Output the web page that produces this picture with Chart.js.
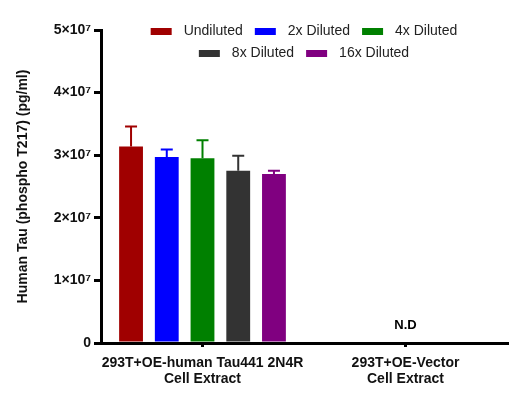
<!DOCTYPE html>
<html lang="en">
<head>
<meta charset="UTF-8">
<title>Human Tau phospho T217</title>
<script src="https://cdn.jsdelivr.net/npm/chart.js"></script>
<style>
    body { margin: 0; padding: 0; background: #fff; }
    #wrap { width: 510px; height: 400px; }
</style>
</head>
<body>
<div id="wrap"><canvas id="tauChart" width="510" height="400"></canvas></div>
<script>
    // data
    const categories = [
        ['293T+OE-human Tau441 2N4R', 'Cell Extract'],
        ['293T+OE-Vector', 'Cell Extract']
    ];
    const seriesNames = ['Undiluted', '2x Diluted', '4x Diluted', '8x Diluted', '16x Diluted'];
    const seriesColors = ['#A00000', '#0000FF', '#008000', '#333333', '#800080'];
    const undiluted = [3.14e7, 0];
    const diluted2x = [2.97e7, 0];
    const diluted4x = [2.95e7, 0];
    const diluted8x = [2.75e7, 0];
    const diluted16x = [2.70e7, 0];
    const errUndiluted = [0.32e7, 0];
    const err2x = [0.12e7, 0];
    const err4x = [0.29e7, 0];
    const err8x = [0.24e7, 0];
    const err16x = [0.05e7, 0];
    const notDetected = ['', 'N.D'];
    const yTicks = [0, 1e7, 2e7, 3e7, 4e7, 5e7];

    const values = [undiluted, diluted2x, diluted4x, diluted8x, diluted16x];
    const errors = [errUndiluted, err2x, err4x, err8x, err16x];

    const FONT = 'Arial, "Liberation Sans", sans-serif';

    // upper error whiskers
    const errorBars = {
        id: 'errorBars',
        afterDatasetsDraw(chart) {
            const ctx = chart.ctx;
            const y = chart.scales.y;
            chart.data.datasets.forEach((ds, di) => {
                const meta = chart.getDatasetMeta(di);
                meta.data.forEach((bar, i) => {
                    const e = errors[di][i];
                    if (!e) return;
                    const top = y.getPixelForValue(ds.data[i] + e);
                    ctx.save();
                    ctx.strokeStyle = ds.backgroundColor;
                    ctx.lineWidth = 2;
                    ctx.beginPath();
                    ctx.moveTo(bar.x, bar.y);
                    ctx.lineTo(bar.x, top);
                    ctx.moveTo(bar.x - 6, top);
                    ctx.lineTo(bar.x + 6, top);
                    ctx.stroke();
                    ctx.restore();
                });
            });
        }
    };

    // N.D marks + legend inside the plot area
    const extras = {
        id: 'extras',
        afterDraw(chart) {
            const ctx = chart.ctx;
            const x = chart.scales.x;
            const area = chart.chartArea;
            ctx.save();
            ctx.fillStyle = '#000';
            ctx.font = 'bold 13px ' + FONT;
            ctx.textAlign = 'center';
            ctx.textBaseline = 'middle';
            notDetected.forEach((t, i) => {
                if (t) ctx.fillText(t, x.getPixelForValue(i), area.bottom - 18);
            });

            // legend rows
            ctx.font = '14px ' + FONT;
            ctx.textAlign = 'left';
            const rows = [[0, 1, 2], [3, 4]];
            const cx = (area.left + area.right) / 2;
            const rowY = [31, 53];
            const sw = 21, gap = 12;
            rows.forEach((row, r) => {
                const widths = row.map(i => sw + gap + ctx.measureText(seriesNames[i]).width);
                const total = widths.reduce((a, b) => a + b, 0) + gap * (row.length - 1);
                let px = cx - total / 2;
                row.forEach((i, k) => {
                    ctx.fillStyle = seriesColors[i];
                    ctx.fillRect(px, rowY[r] - 3, sw, 7);
                    ctx.fillStyle = '#222';
                    ctx.fillText(seriesNames[i], px + sw + gap, rowY[r]);
                    px += widths[k] + gap;
                });
            });
            ctx.restore();
        }
    };

    const ctx = document.getElementById('tauChart').getContext('2d');
    const tauChart = new Chart(ctx, {
        type: 'bar',
        data: {
            labels: categories,
            datasets: values.map((v, i) => ({
                label: seriesNames[i],
                data: v,
                backgroundColor: seriesColors[i],
                borderWidth: 0,
                categoryPercentage: 0.88,
                barPercentage: 0.667
            }))
        },
        options: {
            responsive: false,
            animation: false,
            layout: { padding: { top: 30, right: 3, left: 0, bottom: 0 } },
            plugins: {
                legend: { display: false },
                tooltip: { enabled: false }
            },
            scales: {
                x: {
                    grid: {
                        display: true, drawOnChartArea: false, offset: false,
                        color: '#000', lineWidth: 3, tickLength: 4
                    },
                    border: { color: '#000', width: 3 },
                    ticks: {
                        color: '#111', padding: 8,
                        font: { family: FONT, size: 14, weight: 'bold', lineHeight: 1.15 },
                        maxRotation: 0, autoSkip: false
                    },
                    afterFit(scale) { scale.height = 57; }
                },
                y: {
                    min: 0, max: 5e7,
                    afterBuildTicks(scale) { scale.ticks = yTicks.map(v => ({ value: v })); },
                    grid: {
                        display: true, drawOnChartArea: false,
                        color: '#000', lineWidth: 3, tickLength: 7
                    },
                    border: { color: '#000', width: 3 },
                    ticks: {
                        color: '#111', padding: 3,
                        font: { family: FONT, size: 14, weight: 'bold' },
                        callback: v => v === 0 ? '0' : (v / 1e7) + '×10⁷'
                    },
                    title: {
                        display: true,
                        text: 'Human Tau (phospho T217) (pg/ml)',
                        color: '#111',
                        font: { family: FONT, size: 14, weight: 'bold' },
                        padding: { top: 15, bottom: 4 }
                    },
                    afterFit(scale) { scale.width = 101; }
                }
            }
        },
        plugins: [errorBars, extras]
    });
</script>
</body>
</html>
